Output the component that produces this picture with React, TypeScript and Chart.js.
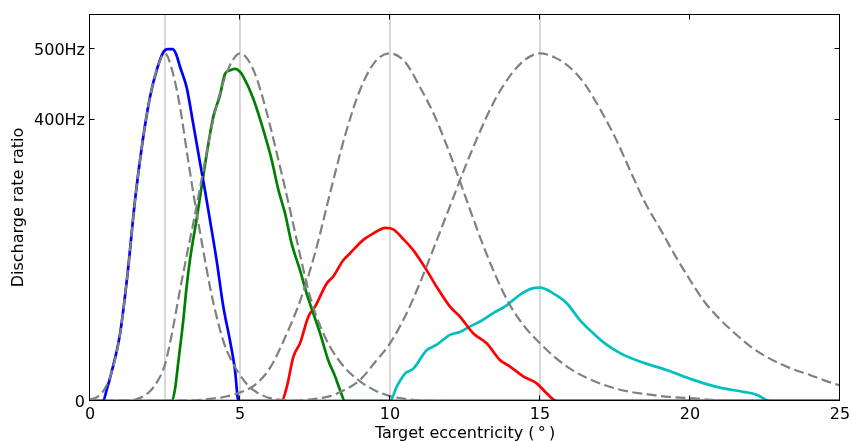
import React, { useEffect, useRef } from "react";
import { Chart, registerables } from "chart.js";
Chart.register(...registerables);

// Colored discharge-rate curves (x = eccentricity in deg, y = Hz)
const blueX = [0, 0.44, 0.55, 0.7, 1.0, 1.25, 1.5, 1.75, 2.0, 2.25, 2.45, 2.6, 2.75, 2.87, 3.0, 3.22, 3.44, 3.67, 3.83, 4.0, 4.22, 4.44, 4.67, 4.83, 4.95, 25];
const blueY = [0, 0, 15, 38, 95, 180, 285, 368, 432, 474, 496, 500, 500, 493, 475, 446, 394, 338, 300, 257, 200, 135, 85, 45, 0, 0];

const greenX = [0, 2.72, 2.83, 2.94, 3.11, 3.22, 3.33, 3.56, 3.83, 4.11, 4.33, 4.5, 4.67, 4.83, 5.0, 5.11, 5.44, 5.78, 6.06, 6.28, 6.5, 6.72, 7.0, 7.22, 7.44, 7.67, 7.94, 8.17, 8.33, 8.5, 25];
const greenY = [0, 0, 16, 54, 115, 162, 200, 260, 335, 404, 434, 465, 470, 472, 468, 461, 430, 385, 342, 300, 267, 224, 186, 153, 125, 96, 58, 35, 16, 0, 0];

const redX = [0, 6.39, 6.56, 6.78, 7.0, 7.28, 7.5, 7.89, 8.11, 8.44, 8.67, 9.11, 9.44, 9.85, 10.11, 10.4, 10.78, 11.22, 11.56, 12.0, 12.33, 12.78, 13.22, 13.67, 14.0, 14.44, 14.89, 15.22, 15.56, 25];
const redY = [0, 0, 20, 63, 82, 120, 134, 167, 177, 200, 210, 229, 238, 246, 244, 232, 214, 186, 162, 134, 120, 96, 82, 58, 49, 35, 25, 11, 0, 0];

const cyanX = [0, 10, 10.22, 10.5, 10.78, 11.22, 11.56, 12.0, 12.33, 12.67, 13.0, 13.44, 13.89, 14.33, 14.67, 15.0, 15.44, 15.89, 16.33, 16.78, 17.22, 17.67, 18.33, 19.22, 20.11, 20.89, 21.78, 22.22, 22.67, 25];
const cyanY = [0, 0, 20, 39, 46, 72, 80, 94, 98, 106, 113, 125, 136, 151, 159, 161, 153, 139, 115, 96, 80, 68, 56, 44, 30, 20, 13, 9, 0, 0];

// Dashed model tuning curves centred at 2.5, 5, 10 and 15 deg
const model1X = [0, 0.25, 0.5, 0.75, 1.0, 1.25, 1.5, 1.75, 2.0, 2.25, 2.5, 2.75, 3.0, 3.25, 3.5, 3.75, 4.0, 4.25, 4.5, 4.75, 5.0, 5.25, 5.5, 5.75, 6.0, 6.5, 7.0, 25];
const model1Y = [2, 6, 18, 45, 95, 180, 285, 368, 432, 474, 494, 468, 418, 348, 281, 220, 162, 115, 78, 55, 37, 23, 14, 8, 4, 1, 0, 0];

const model2X = [0, 1.25, 1.5, 1.75, 2.0, 2.25, 2.5, 2.75, 3.0, 3.25, 3.5, 3.75, 4.0, 4.25, 4.5, 4.75, 5.0, 5.25, 5.5, 5.75, 6.0, 6.25, 6.5, 6.75, 7.0, 7.25, 7.5, 7.75, 8.0, 8.5, 9.0, 9.5, 10.0, 10.5, 11.0, 12.0, 25];
const model2Y = [0, 1, 2, 6, 14, 28, 52, 100, 158, 212, 265, 322, 378, 425, 460, 484, 494, 486, 465, 432, 392, 348, 303, 256, 208, 162, 126, 99, 77, 47, 28, 15, 7, 3, 1, 0, 0];

const model3X = [0, 3.5, 4.0, 4.5, 5.0, 5.5, 6.0, 6.5, 7.0, 7.5, 8.0, 8.5, 9.0, 9.5, 10.0, 10.5, 11.0, 11.5, 12.0, 12.5, 13.0, 13.5, 14.0, 14.5, 15.0, 15.5, 16.0, 16.5, 17.0, 17.5, 18.0, 18.5, 19.0, 20.0, 21.0, 22.0, 25];
const model3Y = [0, 1, 3, 6, 12, 23, 47, 90, 142, 210, 295, 377, 442, 482, 494, 482, 446, 404, 351, 292, 233, 180, 136, 105, 82, 62, 46, 34, 25, 18, 13, 10, 7, 4, 1, 0, 0];

const model4X = [0, 6.5, 7.0, 7.5, 8.0, 8.5, 9.0, 9.5, 10.0, 10.5, 11.0, 11.5, 12.0, 12.5, 13.0, 13.5, 14.0, 14.5, 15.0, 15.5, 16.0, 16.5, 17.0, 17.5, 18.0, 18.5, 19.0, 19.5, 20.0, 20.5, 21.0, 21.5, 22.0, 22.5, 23.0, 23.5, 24.0, 24.5, 25.0];
const model4Y = [0, 0, 1, 3, 7, 16, 30, 55, 82, 120, 168, 222, 277, 332, 383, 428, 462, 485, 494, 488, 474, 450, 415, 375, 328, 282, 245, 207, 172, 140, 116, 96, 78, 64, 53, 44, 37, 29, 22];

const guideX = [2.5, 5, 10, 15];
const xTickValues = [0, 5, 10, 15, 20, 25];
const yTickValues = [0, 400, 500];
const yTickLabels = ["0", "400Hz", "500Hz"];

const X_MIN = 0;
const X_MAX = 25;
const Y_MIN = 0;
const Y_MAX = 550;

function pts(xs: number[], ys: number[]) {
  return xs.map((x, i) => ({ x, y: ys[i] }));
}

export default function App() {
  const ref = useRef<HTMLCanvasElement>(null);

  useEffect(() => {
    document.body.style.margin = "0";
    const canvas = ref.current;
    if (!canvas) return;

    const font = { family: "'DejaVu Sans'", size: 16 };

    const framePlugin = {
      id: "frameTicks",
      afterDraw(chart: any) {
        const { ctx, chartArea: a, scales } = chart;
        const xs = scales.x;
        const ys = scales.y;
        const L = Math.round(a.left) - 0.5;
        const R = Math.round(a.right) - 0.5;
        const T = Math.round(a.top) + 0.5;
        const B = Math.round(a.bottom) - 0.5;
        const tl = 5;
        ctx.save();
        ctx.strokeStyle = "#000";
        ctx.lineWidth = 1;
        ctx.beginPath();
        for (const v of xTickValues) {
          const px = Math.round(xs.getPixelForValue(v)) - 0.5;
          ctx.moveTo(px, B);
          ctx.lineTo(px, B - tl);
          ctx.moveTo(px, T);
          ctx.lineTo(px, T + tl);
        }
        for (const v of yTickValues) {
          const py = Math.round(ys.getPixelForValue(v)) - 0.5;
          ctx.moveTo(L, py);
          ctx.lineTo(L + tl, py);
          ctx.moveTo(R, py);
          ctx.lineTo(R - tl, py);
        }
        ctx.stroke();
        ctx.strokeRect(L, T, R - L, B - T);
        ctx.restore();
      },
    };

    const dashed = (xs: number[], ys: number[]) => ({
      data: pts(xs, ys),
      borderColor: "#808080",
      borderWidth: 2.2,
      borderDash: [10, 4.5],
      cubicInterpolationMode: "monotone" as const,
      pointRadius: 0,
      fill: false,
    });
    const solid = (xs: number[], ys: number[], color: string) => ({
      data: pts(xs, ys),
      borderColor: color,
      borderWidth: 2.7,
      cubicInterpolationMode: "monotone" as const,
      pointRadius: 0,
      fill: false,
    });

    const datasets: any[] = [
      dashed(model1X, model1Y),
      dashed(model2X, model2Y),
      dashed(model3X, model3Y),
      dashed(model4X, model4Y),
      solid(blueX, blueY, "#0000ff"),
      solid(greenX, greenY, "#008000"),
      solid(redX, redY, "#ff0000"),
      solid(cyanX, cyanY, "#00bfbf"),
      ...guideX.map((g) => ({
        data: [
          { x: g, y: Y_MIN },
          { x: g, y: Y_MAX },
        ],
        borderColor: "#bfbfbf",
        borderWidth: 1.2,
        pointRadius: 0,
        tension: 0,
        fill: false,
      })),
    ];

    const chart = new Chart(canvas, {
      type: "line",
      data: { datasets },
      plugins: [framePlugin],
      options: {
        responsive: false,
        animation: false,
        layout: { padding: { top: 14, right: 11, left: 0, bottom: 0 } },
        plugins: { legend: { display: false }, tooltip: { enabled: false } },
        elements: { point: { radius: 0 } },
        scales: {
          x: {
            type: "linear",
            min: X_MIN,
            max: X_MAX,
            afterBuildTicks: (s: any) => {
              s.ticks = xTickValues.map((v) => ({ value: v }));
            },
            afterFit: (s: any) => {
              s.height = 40;
              s.paddingRight = 0;
              s.paddingLeft = 0;
            },
            ticks: {
              font,
              color: "#000",
              padding: 4,
              maxRotation: 0,
              autoSkip: false,
              callback: (v: any) => String(v),
            },
            grid: { display: false, drawTicks: false },
            border: { display: false },
            title: {
              display: true,
              text: "Target eccentricity (\u2009°\u2009)",
              font,
              color: "#000",
              padding: { top: 0, bottom: -2 },
            },
          },
          y: {
            type: "linear",
            min: Y_MIN,
            max: Y_MAX,
            afterBuildTicks: (s: any) => {
              s.ticks = yTickValues.map((v) => ({ value: v }));
            },
            afterFit: (s: any) => {
              s.width = 90;
              s.paddingTop = 0;
              s.paddingBottom = 0;
            },
            ticks: {
              font,
              color: "#000",
              padding: 5,
              labelOffset: 1.5,
              autoSkip: false,
              callback: (v: any) => {
                const i = yTickValues.indexOf(Number(v));
                return i >= 0 ? yTickLabels[i] : "";
              },
            },
            grid: { display: false, drawTicks: false },
            border: { display: false },
            title: {
              display: true,
              text: "Discharge rate ratio",
              font,
              color: "#000",
              padding: { top: 9, bottom: 0 },
            },
          },
        },
      },
    } as any);

    return () => chart.destroy();
  }, []);

  return <canvas ref={ref} width={851} height={441} style={{ display: "block" }} />;
}
